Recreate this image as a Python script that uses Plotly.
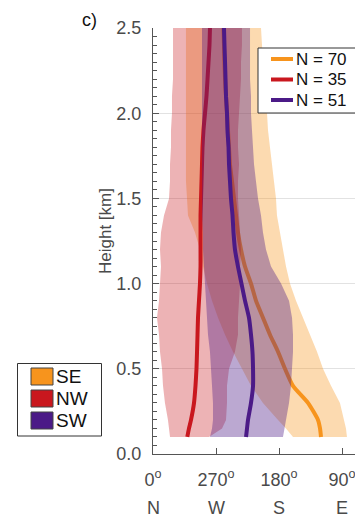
import plotly.graph_objects as go

# ---------------- data ----------------
heights = [0.1, 0.15, 0.2, 0.3, 0.4, 0.5, 0.6, 0.7, 0.8, 0.9, 1.0, 1.1, 1.2,
           1.3, 1.4, 1.5, 1.6, 1.7, 1.8, 1.9, 2.0, 2.1, 2.2, 2.3, 2.4, 2.5]

# median wind direction (deg) per height
se_median = [120, 121.4, 124.3, 138.6, 160, 171.4, 181.4, 192.9, 202.9, 212.9,
             220, 228.6, 234.3, 238.6, 241.4, 244.3, 247.1, 250, 251.4, 252.9,
             254.3, 255.7, 257.1, 257.9, 258.6, 259.3]
nw_median = [311, 308.6, 305.7, 301.4, 299.3, 297.9, 297.1, 296.4, 295.7, 294.3,
             292.9, 292.1, 292.1, 292.1, 292.1, 291.4, 290.7, 290, 289.3, 287.9,
             285.7, 283.6, 282.1, 280.7, 279.3, 278.6]
sw_median = [227.1, 225.7, 224.3, 220, 217.1, 217.1, 217.9, 220, 222.9, 228.6,
             233.6, 238.6, 242.9, 245, 246.4, 248.6, 250, 251.4, 252.1, 253.6,
             254.3, 255.7, 256.4, 257.1, 257.9, 258.6]

# spread bands: upper / lower direction bound (deg)
se_upper = [160, 170, 181.4, 202.9, 220, 232.9, 245.7, 257.1, 267.1, 275.7,
            282.9, 288.6, 292.9, 300, 310, 311.4, 312.9, 312.9, 312.9, 312.9,
            312.9, 312.9, 312.9, 312.9, 312.9, 312.9]
se_lower = [82.9, 84.3, 87.1, 92.9, 105.7, 117.1, 125.7, 135.7, 145.7, 155.7,
            164.3, 170, 174.3, 178.6, 182.9, 184.3, 187.1, 190, 192.9, 195.7,
            197.1, 200, 201.4, 202.9, 204.3, 205.7]
nw_upper = [335.7, 337.1, 338.6, 342.9, 345.7, 347.1, 350, 351.4, 354.3, 351.4,
            350, 348.6, 350, 348.6, 344.3, 337.1, 335.7, 335.7, 334.3, 334.3,
            332.9, 332.9, 331.4, 331.4, 331.4, 331.4]
nw_lower = [280, 261.4, 255.7, 254.3, 254.3, 251.4, 242.9, 238.6, 238.6, 237.1,
            235.7, 235.7, 234.3, 235.7, 237.1, 238.6, 238.6, 237.1, 238.6, 238.6,
            237.1, 235.7, 234.3, 234.3, 232.9, 232.9]
sw_upper = [278.6, 275.7, 274.3, 274.3, 275.7, 277.1, 278.6, 281.4, 282.9, 284.3,
            285.7, 287.1, 288.6, 288.6, 290, 290, 290, 290, 290, 290,
            290, 290, 290, 290, 290, 290]
sw_lower = [174.3, 172.9, 170, 165.7, 162.9, 161.4, 160, 160, 161.4, 165.7,
            177.1, 191.4, 198.6, 202.9, 205.7, 210, 212.9, 215.7, 217.1, 218.6,
            220, 220, 221.4, 221.4, 221.4, 221.4]

sector_names = ["SE", "NW", "SW"]
sample_counts = ["N = 70", "N = 35", "N = 51"]

dir_tickvals = [360, 270, 180, 90]
dir_ticklabels = ["0<sup>o</sup>", "270<sup>o</sup>", "180<sup>o</sup>", "90<sup>o</sup>"]
compass_labels = ["N", "W", "S", "E"]
height_ticks = [0, 0.5, 1.0, 1.5, 2.0, 2.5]

# ---------------- style ----------------
# the page body adds an 8 px margin, so the figure is shifted by 8 px
OFF = 8
W, H = 363 - OFF, 517 - OFF
PLOT_L, PLOT_R, PLOT_T, PLOT_B = 153, 363, 28, 454   # page pixels of the plot area
L, R, T, B = PLOT_L - OFF, 0, PLOT_T - OFF, (H + OFF) - PLOT_B
FONT = "Liberation Sans, Arial, Helvetica, sans-serif"
TXT = "#4a4a4a"
AX = "#555555"

line_colors = ["#F7941D", "#C9171E", "#4B1A87"]
fill_colors = ["rgba(247,148,29,0.35)", "rgba(201,23,30,0.33)", "rgba(75,26,135,0.38)"]


def px_x(px):
    return (px - PLOT_L) / (PLOT_R - PLOT_L)


def px_y(py):
    return (PLOT_B - py) / (PLOT_B - PLOT_T)


fig = go.Figure()
series = [
    (se_median, se_upper, se_lower),
    (nw_median, nw_upper, nw_lower),
    (sw_median, sw_upper, sw_lower),
]
for i, (med, up, lo) in enumerate(series):
    fig.add_trace(go.Scatter(
        x=up + lo[::-1], y=heights + heights[::-1],
        fill="toself", fillcolor=fill_colors[i], mode="lines",
        line=dict(width=0), hoverinfo="skip", showlegend=False))
    fig.add_trace(go.Scatter(
        x=med, y=heights, mode="lines",
        line=dict(color=line_colors[i], width=4, shape="spline", smoothing=0.6),
        name=sample_counts[i], showlegend=False))

shapes = []
annotations = []

# top-right legend (lines)
shapes.append(dict(type="rect", xref="paper", yref="paper",
                   x0=px_x(258), x1=px_x(361), y0=px_y(113), y1=px_y(48),
                   line=dict(color="#333333", width=1), fillcolor="white"))
for i, yy in enumerate([59, 79.5, 100]):
    shapes.append(dict(type="line", xref="paper", yref="paper",
                       x0=px_x(271), x1=px_x(293), y0=px_y(yy), y1=px_y(yy),
                       line=dict(color=line_colors[i], width=4)))
    annotations.append(dict(xref="paper", yref="paper", x=px_x(294), y=px_y(yy),
                            xanchor="left", yanchor="middle", showarrow=False,
                            text=sample_counts[i],
                            font=dict(family=FONT, size=17, color="#111111")))

# bottom-left legend (patches)
shapes.append(dict(type="rect", xref="paper", yref="paper",
                   x0=px_x(17.5), x1=px_x(101.5), y0=px_y(436), y1=px_y(363.5),
                   line=dict(color="#333333", width=1), fillcolor="white"))
for i, yc in enumerate([376.5, 398.5, 420.5]):
    shapes.append(dict(type="rect", xref="paper", yref="paper",
                       x0=px_x(31), x1=px_x(53), y0=px_y(yc + 8.5), y1=px_y(yc - 8.5),
                       line=dict(color="#444444", width=1), fillcolor=line_colors[i]))
    annotations.append(dict(xref="paper", yref="paper", x=px_x(54), y=px_y(yc),
                            xanchor="left", yanchor="middle", showarrow=False,
                            text=sector_names[i],
                            font=dict(family=FONT, size=19, color="#111111")))

# compass labels under the degree ticks
for v, lab in zip(dir_tickvals, compass_labels):
    annotations.append(dict(xref="x", yref="paper", x=v, y=px_y(508),
                            xanchor="center", yanchor="middle", showarrow=False,
                            text=lab, font=dict(family=FONT, size=18, color=TXT)))

# y title and panel label
annotations.append(dict(xref="paper", yref="paper", x=px_x(105), y=px_y(231),
                        xanchor="center", yanchor="middle", showarrow=False,
                        textangle=-90, text="Height [km]",
                        font=dict(family=FONT, size=17, color=TXT)))
annotations.append(dict(xref="paper", yref="paper", x=px_x(89), y=px_y(20),
                        xanchor="center", yanchor="middle", showarrow=False,
                        text="c)", font=dict(family=FONT, size=18, color="#111111")))

fig.update_layout(
    width=W, height=H,
    margin=dict(l=L, r=R, t=T, b=B, pad=0),
    paper_bgcolor="white", plot_bgcolor="white",
    font=dict(family=FONT, color=TXT),
    showlegend=False,
    shapes=shapes, annotations=annotations,
    xaxis=dict(range=[360, 60], tickmode="array", tickvals=dir_tickvals,
               ticktext=dir_ticklabels, ticks="inside", ticklen=6, tickcolor=AX,
               showline=True, linecolor=AX, linewidth=1, showgrid=False,
               zeroline=False, tickfont=dict(family=FONT, size=18, color=TXT),
               ticklabelstandoff=9),
    yaxis=dict(range=[0, 2.5], tickmode="array", tickvals=height_ticks,
               ticktext=[f"{v:.1f}" for v in height_ticks],
               ticks="inside", ticklen=6, tickcolor=AX,
               minor=dict(tickmode="linear", tick0=0, dtick=0.05, ticks="inside",
                          ticklen=4, tickcolor=AX, showgrid=False),
               showline=True, linecolor=AX, linewidth=1,
               showgrid=True, gridcolor="#e2e2e2", gridwidth=1, zeroline=False,
               tickfont=dict(family=FONT, size=18, color=TXT),
               ticklabelstandoff=7),
)

fig.write_html("out.html")
